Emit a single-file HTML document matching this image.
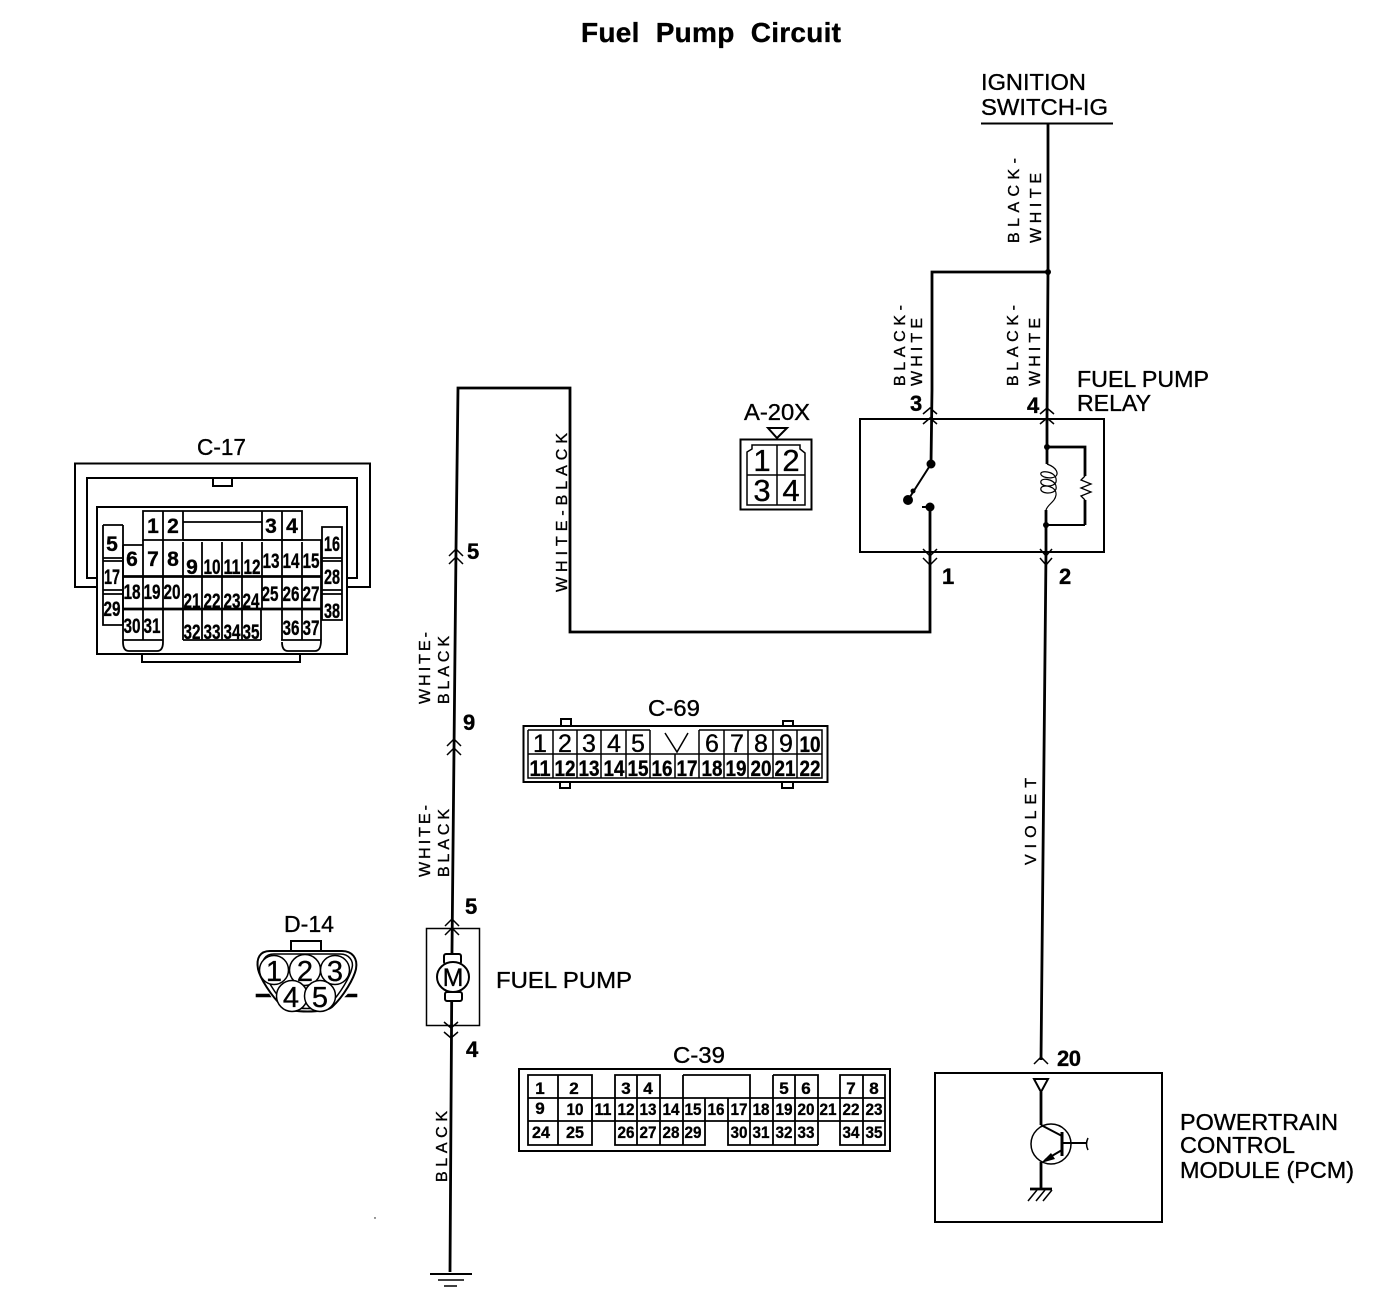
<!DOCTYPE html>
<html><head><meta charset="utf-8"><title>Fuel Pump Circuit</title>
<style>
html,body{margin:0;padding:0;background:#fff;width:1392px;height:1304px;overflow:hidden}
svg{display:block}
text{font-family:"Liberation Sans",sans-serif;fill:#000;stroke:#000;stroke-width:.35px}
.l{font-size:23px}
.n{font-size:22px;font-weight:bold}
.s{font-size:16px}
.c17{font-size:21px;font-weight:bold;text-anchor:middle;stroke-width:.4px}
.c39{font-size:17px;font-weight:bold;text-anchor:middle}
.c69{font-size:25px;text-anchor:middle;stroke-width:.5px}
.c69b{font-size:22px;text-anchor:middle;font-weight:bold}
.w{fill:none;stroke:#000;stroke-width:2.800px}
.t{fill:none;stroke:#000;stroke-width:2px}
.h{fill:none;stroke:#000;stroke-width:1.500px}
.g{fill:none;stroke:#000;stroke-width:1.800px}
</style></head><body>
<svg width="1392" height="1304" viewBox="0 0 1392 1304" xmlns="http://www.w3.org/2000/svg">
<rect width="1392" height="1304" fill="#fff"/>

<text x="581" y="42" font-size="28" font-weight="bold" textLength="260" lengthAdjust="spacing" xml:space="preserve">Fuel  Pump  Circuit</text>

<!-- Ignition -->
<text class="l" x="981" y="90" textLength="105" lengthAdjust="spacingAndGlyphs">IGNITION</text>
<text class="l" x="981" y="115" textLength="127" lengthAdjust="spacingAndGlyphs">SWITCH-IG</text>
<path class="t" d="M981 123.500H1113"/>

<!-- Wires -->
<path class="w" d="M1048 124V272L1047 420V447M1046 525V552L1041 1060"/>
<path class="w" d="M1048 272H932V390L931 464M930 507V632H570V388H458L456 550L454 750L452 950L450 1272"/>
<circle cx="1048" cy="272" r="3"/>

<!-- Wire labels -->
<g class="s">
<text transform="translate(1019 243) rotate(-90)" textLength="85" lengthAdjust="spacing">BLACK-</text>
<text transform="translate(1041 243) rotate(-90)" textLength="70" lengthAdjust="spacing">WHITE</text>
<text transform="translate(905 386) rotate(-90)" textLength="81" lengthAdjust="spacing">BLACK-</text>
<text transform="translate(922 386) rotate(-90)" textLength="68" lengthAdjust="spacing">WHITE</text>
<text transform="translate(1018 386) rotate(-90)" textLength="81" lengthAdjust="spacing">BLACK-</text>
<text transform="translate(1040 386) rotate(-90)" textLength="68" lengthAdjust="spacing">WHITE</text>
<text transform="translate(567 592) rotate(-90)" textLength="159" lengthAdjust="spacing">WHITE-BLACK</text>
<text transform="translate(430 704) rotate(-90)" textLength="72" lengthAdjust="spacing">WHITE-</text>
<text transform="translate(449 704) rotate(-90)" textLength="68" lengthAdjust="spacing">BLACK</text>
<text transform="translate(430 877) rotate(-90)" textLength="72" lengthAdjust="spacing">WHITE-</text>
<text transform="translate(449 877) rotate(-90)" textLength="68" lengthAdjust="spacing">BLACK</text>
<text transform="translate(447 1182) rotate(-90)" textLength="71" lengthAdjust="spacing">BLACK</text>
<text transform="translate(1036 865) rotate(-90)" textLength="87" lengthAdjust="spacing">VIOLET</text>
</g>

<!-- Relay -->
<rect x="860" y="419" width="244" height="133" class="t"/>
<text class="l" x="1077" y="387" textLength="132" lengthAdjust="spacingAndGlyphs">FUEL PUMP</text>
<text class="l" x="1077" y="411" textLength="74" lengthAdjust="spacingAndGlyphs">RELAY</text>
<g class="n">
<text x="910" y="411">3</text>
<text x="1027" y="413">4</text>
<text x="942" y="584">1</text>
<text x="1059" y="584">2</text>
<text x="467" y="559">5</text>
<text x="463" y="730">9</text>
<text x="465" y="914">5</text>
<text x="466" y="1057">4</text>
<text x="1057" y="1066" textLength="24">20</text>
</g>
<g class="h">
<path d="M923 414L930 408L937 414M923 424L930 418L937 424M1040 414L1047 408L1054 414M1040 424L1047 418L1054 424"/>
<path d="M923 549L930 556L937 549M923 558L930 565L937 558M1040 549L1046 556L1052 549M1040 558L1046 565L1052 558"/>
<path d="M449 556L456 549L463 556M449 564L456 557L463 564M447 746L454 739L461 746M447 755L454 748L461 755"/>
<path d="M445 926L452 919L459 926M445 935L452 928L459 935M444 1022L451 1028L458 1022M444 1032L451 1038L458 1032"/>
<path d="M1034 1064L1041 1057L1048 1064"/>
</g>
<circle cx="931" cy="464" r="4.500"/><circle cx="908" cy="500" r="5"/><circle cx="913" cy="491" r="2.500"/><circle cx="930" cy="507" r="4.500"/>
<path class="t" d="M931 464L908 500M922 507H930"/>
<circle cx="1047" cy="447" r="3"/><circle cx="1046" cy="525" r="3"/>
<path class="w" d="M1047 447H1085V476M1085 500V525"/><path class="t" d="M1085 525H1046"/>
<path class="w" d="M1047 447V464M1046 510V525"/>
<path d="M1047 464C1058 468 1058 474 1056 476C1052 480 1039 477 1041 473C1043 470 1058 472 1056 482C1054 488 1039 487 1041 481C1043 477 1058 480 1056 489C1054 495 1039 494 1041 488C1043 484 1057 486 1056 495C1055 502 1048 504 1046 510" fill="none" stroke="#000" stroke-width="1.200px"/>
<path d="M1085 476L1081 480L1091 484L1081 488L1091 492L1081 496L1085 500" fill="none" stroke="#000" stroke-width="1.300px"/>

<!-- A-20X -->
<text class="l" x="744" y="420" textLength="66" lengthAdjust="spacingAndGlyphs">A-20X</text>
<path d="M768 428H787L777 438Z" fill="none" stroke="#000" stroke-width="2"/>
<rect x="740.500" y="439.500" width="71" height="70" class="t"/>
<path class="h" d="M747 475V452L752 449V445H800V449L805 453V505H747V475H805M777 445V505"/>
<g font-size="31" text-anchor="middle"><text x="762" y="471" style="font-size:31px">1</text><text x="791" y="471" style="font-size:31px">2</text><text x="762" y="501" style="font-size:31px">3</text><text x="791" y="501" style="font-size:31px">4</text></g>

<!-- C-17 -->
<text class="l" x="197" y="455" textLength="49" lengthAdjust="spacingAndGlyphs">C-17</text>
<path class="t" d="M97 587H75V463.500H370V587H347M97 578H87V478H357V578H347"/>
<path class="t" d="M213 478V486H232V478"/>
<rect x="97" y="507" width="250" height="147" class="t"/>
<path class="t" d="M142 654V662H300V654"/>
<g class="g">
<path d="M143 511H183V540H143ZM163 511V540M183 511H262V540H183M183 522H262M262 511H302V540H262ZM282 511V540"/>
<path d="M123 545H143M123 545V642C123 648 125 651 129 651H157C161 651 163 648 163 642V540M143 540V640M123 640H163"/>
<path d="M183 540H321V576M183 542V640M202 542V640M222 542V640M242 542V640M262 542V610M282 540V640M302 542V640M183 640H261M261 610V640M321 576V640C321 648 319 651 315 651H288C284 651 282 648 282 642M281 640H321"/>
<path d="M103 525H123M103 525V625H123M103 558H123M103 561H123M103 590H123M103 594H123M123 525V625"/>
<path d="M322 527H342V620H322ZM322 558H342M322 561H342M322 590H342M322 594H342M322 527V620"/>
</g>
<path d="M123 576.500H321M123 609H321" fill="none" stroke="#000" stroke-width="2.800"/>
<g class="c17">
<text x="153" y="533">1</text><text x="173" y="533">2</text><text x="271" y="533">3</text><text x="292" y="533">4</text>
<text x="112" y="551">5</text><text x="132" y="566">6</text><text x="153" y="566">7</text><text x="173" y="566">8</text>
<text x="192" y="574">9</text><text x="212" y="574" textLength="17" lengthAdjust="spacingAndGlyphs">10</text><text x="232" y="574" textLength="17" lengthAdjust="spacingAndGlyphs">11</text><text x="252" y="574" textLength="17" lengthAdjust="spacingAndGlyphs">12</text>
<text x="271" y="568" textLength="17" lengthAdjust="spacingAndGlyphs">13</text><text x="291" y="568" textLength="17" lengthAdjust="spacingAndGlyphs">14</text><text x="311" y="568" textLength="17" lengthAdjust="spacingAndGlyphs">15</text>
<text x="332" y="551" textLength="16" lengthAdjust="spacingAndGlyphs">16</text><text x="112" y="584" textLength="16" lengthAdjust="spacingAndGlyphs">17</text>
<text x="332" y="584" textLength="16" lengthAdjust="spacingAndGlyphs">28</text>
<text x="132" y="599" textLength="17" lengthAdjust="spacingAndGlyphs">18</text><text x="152" y="599" textLength="17" lengthAdjust="spacingAndGlyphs">19</text><text x="172" y="599" textLength="17" lengthAdjust="spacingAndGlyphs">20</text>
<text x="192" y="608" textLength="17" lengthAdjust="spacingAndGlyphs">21</text><text x="212" y="608" textLength="17" lengthAdjust="spacingAndGlyphs">22</text><text x="232" y="608" textLength="17" lengthAdjust="spacingAndGlyphs">23</text><text x="251" y="608" textLength="17" lengthAdjust="spacingAndGlyphs">24</text>
<text x="270" y="601" textLength="17" lengthAdjust="spacingAndGlyphs">25</text><text x="291" y="601" textLength="17" lengthAdjust="spacingAndGlyphs">26</text><text x="311" y="601" textLength="17" lengthAdjust="spacingAndGlyphs">27</text>
<text x="112" y="616" textLength="17" lengthAdjust="spacingAndGlyphs">29</text><text x="332" y="618" textLength="16" lengthAdjust="spacingAndGlyphs">38</text>
<text x="132" y="633" textLength="17" lengthAdjust="spacingAndGlyphs">30</text><text x="152" y="633" textLength="17" lengthAdjust="spacingAndGlyphs">31</text>
<text x="192" y="639" textLength="17" lengthAdjust="spacingAndGlyphs">32</text><text x="212" y="639" textLength="17" lengthAdjust="spacingAndGlyphs">33</text><text x="232" y="639" textLength="17" lengthAdjust="spacingAndGlyphs">34</text><text x="251" y="639" textLength="17" lengthAdjust="spacingAndGlyphs">35</text>
<text x="291" y="635" textLength="17" lengthAdjust="spacingAndGlyphs">36</text><text x="311" y="635" textLength="17" lengthAdjust="spacingAndGlyphs">37</text>
</g>

<!-- C-69 -->
<text class="l" x="648" y="716" textLength="52" lengthAdjust="spacingAndGlyphs">C-69</text>
<rect x="523.500" y="726" width="304" height="56" class="t"/>
<path class="t" d="M561 726V719H571V726M783 726V721H793V726M560 782V788H570V782M782 782V788H793V782"/>
<path class="h" d="M528 730H650M699 730H822V778H528V730M528 754H822M553 730V778M577 730V778M601 730V778M626 730V778M650 730V778M675 754V778M699 730V778M724 730V778M748 730V778M773 730V778M797 730V778"/>
<path class="h" d="M665 733L677 752L688 733"/>
<g class="c69">
<text x="540" y="752">1</text><text x="565" y="752">2</text><text x="589" y="752">3</text><text x="614" y="752">4</text><text x="638" y="752">5</text>
<text x="712" y="752">6</text><text x="737" y="752">7</text><text x="761" y="752">8</text><text x="786" y="752">9</text><text x="810" y="752" style="font-size:22px;font-weight:bold" textLength="21" lengthAdjust="spacingAndGlyphs">10</text>
</g>
<g class="c69b">
<text x="540" y="776" textLength="21" lengthAdjust="spacingAndGlyphs">11</text><text x="565" y="776" textLength="21" lengthAdjust="spacingAndGlyphs">12</text><text x="589" y="776" textLength="21" lengthAdjust="spacingAndGlyphs">13</text><text x="614" y="776" textLength="21" lengthAdjust="spacingAndGlyphs">14</text><text x="638" y="776" textLength="21" lengthAdjust="spacingAndGlyphs">15</text><text x="662" y="776" textLength="21" lengthAdjust="spacingAndGlyphs">16</text><text x="687" y="776" textLength="21" lengthAdjust="spacingAndGlyphs">17</text><text x="712" y="776" textLength="21" lengthAdjust="spacingAndGlyphs">18</text><text x="736" y="776" textLength="21" lengthAdjust="spacingAndGlyphs">19</text><text x="761" y="776" textLength="21" lengthAdjust="spacingAndGlyphs">20</text><text x="785" y="776" textLength="21" lengthAdjust="spacingAndGlyphs">21</text><text x="810" y="776" textLength="21" lengthAdjust="spacingAndGlyphs">22</text>
</g>

<!-- Fuel pump -->
<rect x="426.500" y="928.500" width="53" height="97" class="h"/>
<text class="l" x="496" y="988" textLength="136" lengthAdjust="spacingAndGlyphs">FUEL PUMP</text>
<rect x="444" y="954" width="17" height="10" fill="#fff" stroke="#000" stroke-width="2" rx="2"/>
<rect x="445" y="992" width="17" height="9" fill="#fff" stroke="#000" stroke-width="2" rx="2"/>
<ellipse cx="453" cy="977" rx="16" ry="15" fill="#fff" stroke="#000" stroke-width="2"/>
<text x="453" y="986" text-anchor="middle" style="font-size:25px">M</text>

<!-- D-14 -->
<text class="l" x="284" y="932" textLength="50" lengthAdjust="spacingAndGlyphs">D-14</text>
<path class="t" d="M291 951V941H321V951"/>
<path class="t" d="M270 951H342C352 951 358 958 356 969C354 978 344 996 332 1007C325 1013 290 1013 283 1007C271 996 260 978 258 969C256 958 260 951 270 951Z"/>
<path class="h" d="M274 954H340C349 954 354 961 352 968C350 977 340 994 330 1004C324 1010 291 1010 285 1004C275 994 265 977 263 968C261 961 265 954 274 954Z"/>
<path d="M256 994H269L271 997H256ZM345 997L348 994H357V997Z" stroke="#000" stroke-width=".6" fill="#000"/>
<g fill="#fff" stroke="#000" stroke-width="1.500">
<circle cx="274" cy="970" r="14.500"/><circle cx="305" cy="970" r="15.500"/><circle cx="335" cy="970" r="14.500"/><circle cx="292" cy="996" r="15.500"/><circle cx="320" cy="996" r="15.500"/>
</g>
<g text-anchor="middle"><text x="274" y="981" style="font-size:29px">1</text><text x="305" y="981" style="font-size:29px">2</text><text x="335" y="981" style="font-size:29px">3</text><text x="291" y="1007" style="font-size:29px">4</text><text x="320" y="1007" style="font-size:29px">5</text></g>

<!-- Ground -->
<path class="t" d="M430 1274H472"/><path class="h" d="M438 1280H464M444 1286H457"/>
<circle cx="375" cy="1218" r=".7"/>

<!-- C-39 -->
<text class="l" x="673" y="1063" textLength="52" lengthAdjust="spacingAndGlyphs">C-39</text>
<rect x="519" y="1069" width="371" height="82" class="t"/>
<path class="g" d="M528 1075H592V1098H528ZM558 1075V1145M528 1098V1145H592V1098M528 1098H885M528 1121H885"/>
<path class="g" d="M592 1098V1121M615 1075H660V1145H615ZM637 1075V1145M660 1098V1145H705V1098M683 1075V1145M705 1098V1121M728 1098V1145H773M683 1075H750V1098M750 1098V1145M773 1075V1145M773 1075H818V1098M795 1075V1145M818 1075V1145M773 1145H818M818 1098V1121M840 1075H885V1145H840ZM840 1098V1145M863 1075V1145"/>
<g class="c39">
<text x="540" y="1094">1</text><text x="574" y="1094">2</text><text x="626" y="1094">3</text><text x="648" y="1094">4</text><text x="784" y="1094">5</text><text x="806" y="1094">6</text><text x="851" y="1094">7</text><text x="874" y="1094">8</text>
<text x="540" y="1114">9</text><text x="575" y="1115" textLength="17" lengthAdjust="spacingAndGlyphs">10</text><text x="603" y="1115" textLength="17" lengthAdjust="spacingAndGlyphs">11</text><text x="626" y="1115" textLength="17" lengthAdjust="spacingAndGlyphs">12</text><text x="648" y="1115" textLength="17" lengthAdjust="spacingAndGlyphs">13</text><text x="671" y="1115" textLength="17" lengthAdjust="spacingAndGlyphs">14</text><text x="693" y="1115" textLength="17" lengthAdjust="spacingAndGlyphs">15</text><text x="716" y="1115" textLength="17" lengthAdjust="spacingAndGlyphs">16</text><text x="739" y="1115" textLength="17" lengthAdjust="spacingAndGlyphs">17</text><text x="761" y="1115" textLength="17" lengthAdjust="spacingAndGlyphs">18</text><text x="784" y="1115" textLength="17" lengthAdjust="spacingAndGlyphs">19</text><text x="806" y="1115" textLength="17" lengthAdjust="spacingAndGlyphs">20</text><text x="828" y="1115" textLength="17" lengthAdjust="spacingAndGlyphs">21</text><text x="851" y="1115" textLength="17" lengthAdjust="spacingAndGlyphs">22</text><text x="874" y="1115" textLength="17" lengthAdjust="spacingAndGlyphs">23</text>
<text x="541" y="1138" textLength="18" lengthAdjust="spacingAndGlyphs">24</text><text x="575" y="1138" textLength="18" lengthAdjust="spacingAndGlyphs">25</text><text x="626" y="1138" textLength="17" lengthAdjust="spacingAndGlyphs">26</text><text x="648" y="1138" textLength="17" lengthAdjust="spacingAndGlyphs">27</text><text x="671" y="1138" textLength="17" lengthAdjust="spacingAndGlyphs">28</text><text x="693" y="1138" textLength="17" lengthAdjust="spacingAndGlyphs">29</text><text x="739" y="1138" textLength="17" lengthAdjust="spacingAndGlyphs">30</text><text x="761" y="1138" textLength="17" lengthAdjust="spacingAndGlyphs">31</text><text x="784" y="1138" textLength="17" lengthAdjust="spacingAndGlyphs">32</text><text x="806" y="1138" textLength="17" lengthAdjust="spacingAndGlyphs">33</text><text x="851" y="1138" textLength="17" lengthAdjust="spacingAndGlyphs">34</text><text x="874" y="1138" textLength="17" lengthAdjust="spacingAndGlyphs">35</text>
</g>

<!-- PCM -->
<rect x="935" y="1073" width="227" height="149" class="t"/>
<path class="t" d="M1034 1079H1048L1041 1092Z"/>
<path class="w" d="M1041 1092V1125M1041 1162V1188"/>
<circle cx="1051" cy="1144" r="20" class="h"/>
<path class="t" d="M1041 1125L1062 1136M1062 1150L1045 1160"/>
<path d="M1062 1132V1156" stroke="#000" stroke-width="3"/>
<path class="t" d="M1062 1143H1087"/><path class="h" d="M1088 1138C1086 1142 1086 1146 1088 1150"/>
<path d="M1041 1163L1051 1153L1055 1159Z"/>
<path class="w" d="M1030 1189H1052"/>
<path class="h" d="M1037 1190L1028 1201M1045 1190L1036 1201M1052 1190L1043 1201"/>
<text class="l" x="1180" y="1130" textLength="158" lengthAdjust="spacingAndGlyphs">POWERTRAIN</text>
<text class="l" x="1180" y="1153" textLength="115" lengthAdjust="spacingAndGlyphs">CONTROL</text>
<text class="l" x="1180" y="1178" textLength="174" lengthAdjust="spacingAndGlyphs">MODULE (PCM)</text>
</svg>
</body></html>
